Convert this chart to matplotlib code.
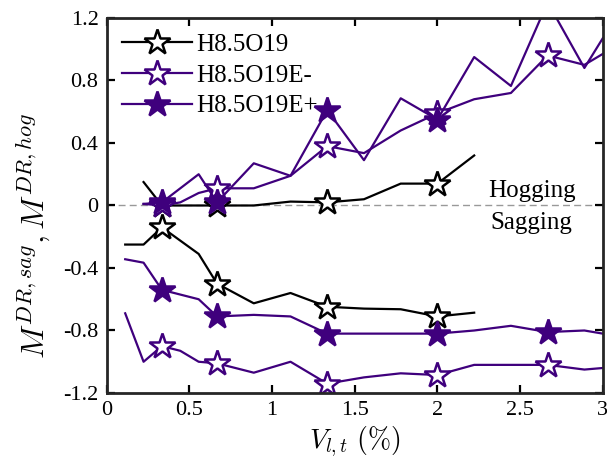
import numpy as np
import matplotlib
matplotlib.use('Agg')
import matplotlib.pyplot as plt

plt.rcParams['font.family'] = ['Liberation Serif', 'DejaVu Serif']
plt.rcParams['mathtext.fontset'] = 'cm'

# x positions (V_l,t in %), ninths of a percent
x_full = np.array([1, 2, 3, 4, 5, 6, 8, 10, 12, 14, 16, 18, 20, 22, 24, 26, 27]) / 9.0
x_blk_hog = np.array([2, 3, 5, 6, 8, 10, 12, 14, 16, 18, 20]) / 9.0
x_blk_sag = np.array([1, 2, 3, 5, 6, 8, 10, 12, 14, 16, 18, 20]) / 9.0
x_ep_hog = np.array([2, 3, 5, 6, 8, 10, 12, 14, 16, 18, 20, 22, 24, 26, 27]) / 9.0
x_ep_sag = np.array([1, 2, 3, 5, 6, 8, 10, 12, 14, 16, 18, 20, 22, 24, 26, 27]) / 9.0
x_em_hog = np.array([2, 3, 4, 5, 6, 8, 10, 12, 14, 16, 18, 20, 22, 24, 26, 27]) / 9.0
x_em_sag = x_full

# H8.5O19
blk_hog = [0.15, 0.0, 0.0, 0.0, 0.0, 0.025, 0.02, 0.04, 0.14, 0.14, 0.32]
blk_sag = [-0.25, -0.25, -0.14, -0.31, -0.50, -0.626, -0.56, -0.648, -0.66, -0.664, -0.71, -0.686]
# H8.5O19E-
em_hog = [0.01, 0.0, 0.02, 0.08, 0.11, 0.11, 0.19, 0.38, 0.335, 0.48, 0.59, 0.68, 0.72, 0.96, 0.90, 0.97]
em_sag = [-0.69, -1.0, -0.90, -0.93, -1.0, -1.01, -1.07, -1.0, -1.14, -1.10, -1.074, -1.085,
          -1.02, -1.02, -1.02, -1.05, -1.04]
# H8.5O19E+
ep_hog = [0.01, 0.02, 0.2, 0.02, 0.27, 0.19, 0.61, 0.29, 0.686, 0.55, 0.95, 0.765, 1.3, 0.88, 1.07]
ep_sag = [-0.344, -0.366, -0.54, -0.60, -0.71, -0.70, -0.71, -0.82, -0.82, -0.82, -0.82,
          -0.80, -0.77, -0.81, -0.80, -0.82]

mark_x = [3, 6, 12, 18, 24]  # ninths where markers sit

purple = '#3f007d'


def marks(xs):
    return [i for i, v in enumerate(xs) if int(round(v * 9)) in mark_x]


fig = plt.figure(figsize=(6.07, 4.61), dpi=100)
ax = fig.add_axes([0.176, 0.1475, 0.817, 0.8135])

ax.axhline(0, color='#999999', ls='--', lw=1.0, dashes=(5, 3), zorder=1)

styles = [
    ('H8.5O19', x_blk_hog, blk_hog, x_blk_sag, blk_sag, 'k', 'white'),
    ('H8.5O19E-', x_em_hog, em_hog, x_em_sag, em_sag, purple, 'white'),
    ('H8.5O19E+', x_ep_hog, ep_hog, x_ep_sag, ep_sag, purple, purple),
]
for name, xh, yh, xs, ys, c, fc in styles:
    kw = dict(color=c, lw=1.6, marker='*', ms=19, mfc=fc, mec=c, mew=1.8)
    ax.plot(xh, yh, markevery=marks(xh), label=name, **kw)
    ax.plot(xs, ys, markevery=marks(xs), **kw)

ax.text(2.57, 0.095, 'Hogging', ha='center', va='center', fontsize=18)
ax.text(2.57, -0.11, 'Sagging', ha='center', va='center', fontsize=18)

ax.set_xlim(0, 3)
ax.set_ylim(-1.2, 1.2)
ax.set_xticks([0, 0.5, 1, 1.5, 2, 2.5, 3])
ax.set_xticklabels(['0', '0.5', '1', '1.5', '2', '2.5', '3'])
ax.set_yticks([-1.2, -0.8, -0.4, 0, 0.4, 0.8, 1.2])
ax.set_yticklabels(['-1.2', '-0.8', '-0.4', '0', '0.4', '0.8', '1.2'])
ax.tick_params(direction='in', length=6, width=1.6, top=True, right=True, labelsize=16, pad=6)
for s in ax.spines.values():
    s.set_linewidth(2)
    s.set_color('#262626')

ax.set_xlabel(r'$V_{l,t}\ (\%)$', fontsize=20, labelpad=3)
ax.set_ylabel(r'$M^{DR,sag}, M^{DR,hog}$', fontsize=23)
ax.yaxis.set_label_coords(-0.111, 0.42)

leg = ax.legend(loc='upper left', frameon=False, fontsize=18, handlelength=2.8,
                borderaxespad=0.3, labelspacing=0.33, handletextpad=0.15,
                borderpad=0.32)

fig.savefig('out.png', dpi=100)
